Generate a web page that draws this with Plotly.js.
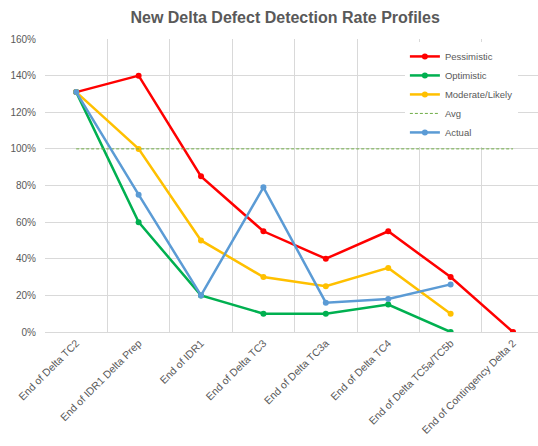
<!DOCTYPE html>
<html>
<head>
<meta charset="utf-8">
<script src="https://cdn.plot.ly/plotly-3.0.1.min.js"></script>
<style>html,body{margin:0;padding:0;overflow:hidden;background:#fff;}#chart{width:538px;height:446px;}</style>
</head>
<body>
<div id="chart"></div>
<script>
const categories = ["End of Delta TC2", "End of IDR1 Delta Prep", "End of IDR1", "End of Delta TC3", "End of Delta TC3a", "End of Delta TC4", "End of Delta TC5a/TC5b", "End of Contingency Delta 2"];
const pessimistic = [1.31, 1.40, 0.85, 0.55, 0.40, 0.55, 0.30, 0.00];
const optimistic = [1.31, 0.60, 0.20, 0.10, 0.10, 0.15, 0.00, null];
const moderate = [1.31, 1.00, 0.50, 0.30, 0.25, 0.35, 0.10, null];
const avg = [1.00, 1.00, 1.00, 1.00, 1.00, 1.00, 1.00, 1.00];
const actual = [1.31, 0.75, 0.20, 0.79, 0.16, 0.18, 0.26, null];
const yTicks = [0, 0.2, 0.4, 0.6, 0.8, 1.0, 1.2, 1.4, 1.6];
const yTickText = ["0%", "20%", "40%", "60%", "80%", "100%", "120%", "140%", "160%"];

function series(name, y, color) {
  return {
    type: "scatter", mode: "lines+markers", name: name, x: categories, y: y,
    line: {color: color, width: 2.5}, marker: {color: color, size: 6}
  };
}
const traces = [
  series("Pessimistic", pessimistic, "#FF0000"),
  series("Optimistic", optimistic, "#00B050"),
  series("Moderate/Likely", moderate, "#FFC000"),
  {type: "scatter", mode: "lines", name: "Avg", x: categories, y: avg,
   line: {color: "#70AD47", width: 1, dash: "3px,2px"}},
  series("Actual", actual, "#5B9BD5")
];
const layout = {
  width: 538, height: 446,
  margin: {l: 45, r: 0, t: 39, b: 114},
  paper_bgcolor: "#fff", plot_bgcolor: "#fff",
  font: {family: "Liberation Sans, Arial, sans-serif", color: "#595959", size: 10},
  title: {text: "<b>New Delta Defect Detection Rate Profiles</b>", x: 0.53, xanchor: "center", y: 0.962, yanchor: "middle",
          font: {size: 16, color: "#595959", family: "Liberation Sans, Arial, sans-serif"}},
  xaxis: {type: "category", range: [-0.5, 7.4], tickson: "boundaries", showgrid: true, gridcolor: "#D9D9D9", gridwidth: 1,
          showline: true, linecolor: "#D9D9D9", ticks: "", tickangle: -45, tickfont: {size: 10.5, color: "#595959"}, zeroline: false},
  yaxis: {range: [0, 1.6], tickvals: yTicks, ticktext: yTickText, showgrid: true, gridcolor: "#D9D9D9", gridwidth: 1,
          zeroline: false, showline: false, ticks: "", ticklabelstandoff: 8, tickfont: {size: 10, color: "#595959"}},
  showlegend: true,
  legend: {x: 0.73, y: 0.99, xanchor: "left", yanchor: "top", bgcolor: "#fff", font: {size: 9.5, color: "#595959"},
           tracegroupgap: 0, itemwidth: 30}
};
Plotly.newPlot("chart", traces, layout, {displayModeBar: false, staticPlot: true});
</script>
</body>
</html>
